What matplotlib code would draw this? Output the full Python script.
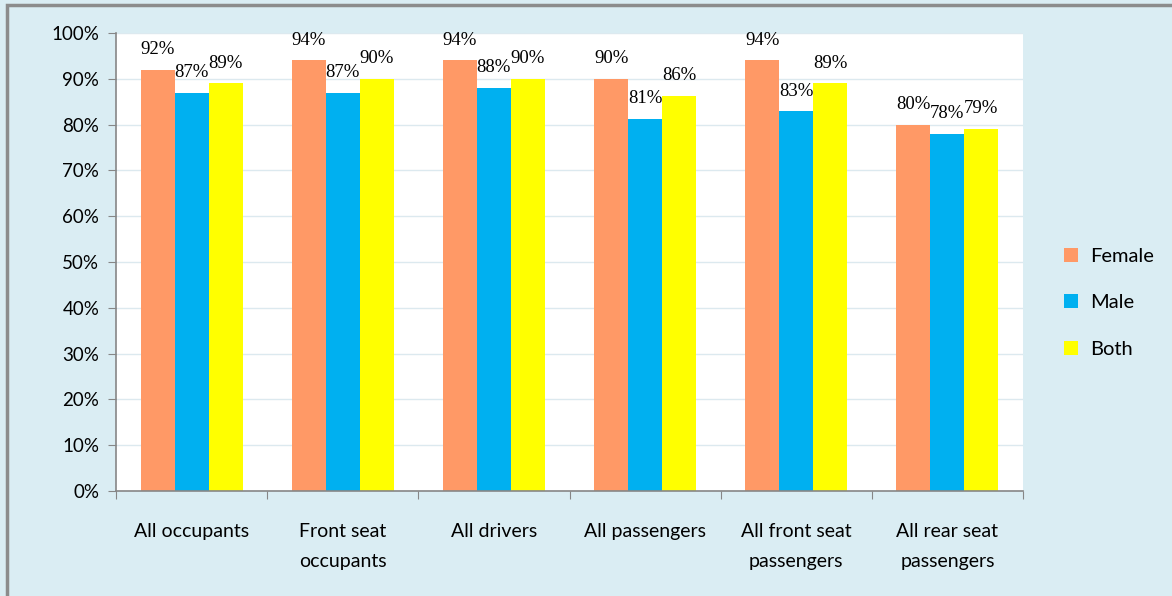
import numpy as np
import matplotlib.pyplot as plt
from matplotlib.patches import Rectangle

categories = ['All occupants', 'Front seat\noccupants', 'All drivers', 'All passengers',
              'All front seat\npassengers', 'All rear seat\npassengers']
female = [92, 94, 94, 90, 94, 80]
male = [87, 87, 88, 81.3, 82.9, 78]
both = [89, 90, 90, 86.3, 89, 79]
female_lbl = ['92%', '94%', '94%', '90%', '94%', '80%']
male_lbl = ['87%', '87%', '88%', '81%', '83%', '78%']
both_lbl = ['89%', '90%', '90%', '86%', '89%', '79%']

BG = '#DAEDF3'
fig = plt.figure(figsize=(11.72, 5.96), dpi=100, facecolor=BG)
# outer frame
fig.patches.append(Rectangle((7 / 1172, -0.01), 1.2, 1 - 5 / 596 + 0.01, transform=fig.transFigure,
                             fill=False, edgecolor='#8C8C8C', linewidth=2.5))

ax = fig.add_axes([116 / 1172, 105 / 596, 907 / 1172, 458 / 596])
ax.set_facecolor('white')

x = np.arange(len(categories))
w = 0.225
series = [(female, female_lbl, '#FF9966', 'Female', -w),
          (male, male_lbl, '#00B0F0', 'Male', 0),
          (both, both_lbl, '#FFFF00', 'Both', w)]
for vals, lbls, col, name, off in series:
    bars = ax.bar(x + off, vals, w, color=col, label=name, zorder=2)
    for b, t in zip(bars, lbls):
        ax.annotate(t, (b.get_x() + b.get_width() / 2, b.get_height()), xytext=(0, 8.5),
                    textcoords='offset points', ha='center', va='bottom',
                    fontsize=13.5, family='Liberation Serif', color='black', zorder=3)

ax.set_xlim(-0.5, len(categories) - 0.5)
ax.set_ylim(0, 100)
ax.set_yticks(np.arange(0, 101, 10))
ax.set_yticklabels([f'{v}%' for v in range(0, 101, 10)], fontsize=13.5, family='Lato')
ax.yaxis.grid(True, color='#DCE9EF', linewidth=1, zorder=0)
ax.set_axisbelow(True)

ax.set_xticks(np.arange(-0.5, len(categories), 1))
ax.set_xticklabels([])
ax.set_xticks(x, minor=True)
ax.set_xticklabels(categories, minor=True, fontsize=14, family='Lato', linespacing=1.95)
ax.tick_params(axis='x', which='minor', length=0, pad=23)
ax.tick_params(axis='x', which='major', length=6, color='#868686', direction='out')
ax.tick_params(axis='y', length=6, color='#868686', pad=6)

for s in ['top', 'right']:
    ax.spines[s].set_visible(False)
for s in ['left', 'bottom']:
    ax.spines[s].set_color('#868686')
    ax.spines[s].set_linewidth(1.2)

fig.legend(loc='center left', bbox_to_anchor=(1046 / 1172, 0.492), frameon=False,
           prop={'family': 'Lato', 'size': 14.5}, handlelength=0.7, handleheight=0.7,
           handletextpad=0.6, labelspacing=1.45)

fig.savefig('out.png', dpi=100, facecolor=BG)
